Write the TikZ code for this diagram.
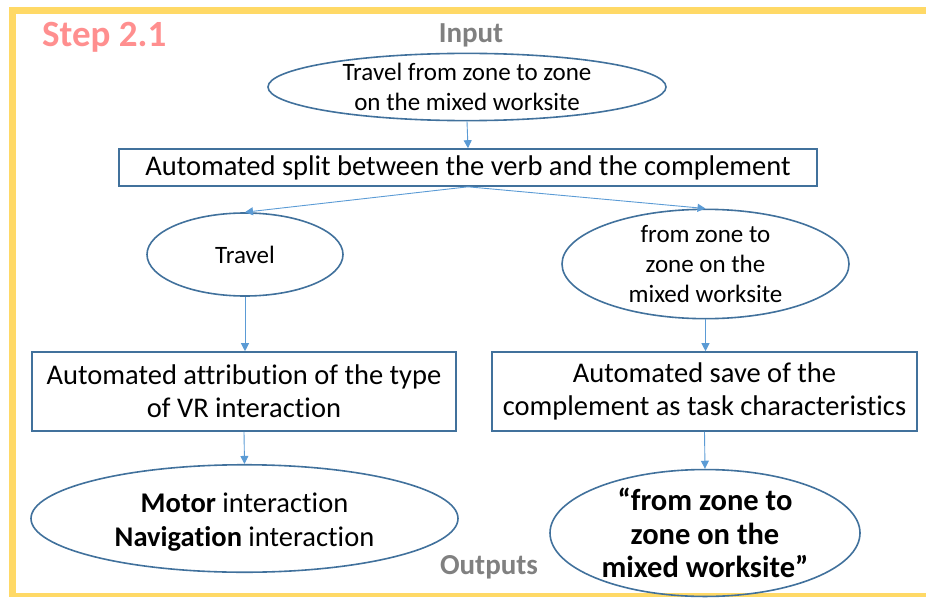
\documentclass[tikz,border=0pt]{standalone}
\usepackage{fontspec}
\setmainfont{Carlito}[Ligatures=NoCommon]
\usetikzlibrary{shapes.geometric,arrows.meta}
\definecolor{bord}{HTML}{41719C}
\definecolor{arr}{HTML}{5B9BD5}
\definecolor{yel}{HTML}{FFD966}
\definecolor{stepc}{HTML}{FF8F8F}
\definecolor{grayt}{HTML}{808080}
\tikzset{
  ell/.style={ellipse, draw=bord, line width=1.6pt, inner sep=0pt, align=center},
  box/.style={rectangle, draw=bord, line width=1.6pt, inner sep=0pt, align=center},
  conn/.style={draw=arr, line width=0.9pt, -{Triangle[length=8pt,width=8pt]}},
  lbl/.style={inner sep=0pt, font=\bfseries\fontsize{29}{32}\selectfont, text=grayt}
}
\begin{document}
\begin{tikzpicture}[x=1pt,y=-1pt]
\useasboundingbox (0,0) rectangle (926,599);
% frame
\fill[yel] (9,7) rectangle (926,14);
\fill[yel] (9,7) rectangle (16,597);
\fill[yel] (9,593) rectangle (926,597);
% titles
\node[inner sep=0pt, font=\bfseries\fontsize{37}{40}\selectfont, text=stepc, anchor=west] (step) at (42,37.5) {Step 2.1};
\node[lbl] (inp) at (471,35) {Input};
\node[lbl] (outp) at (489,567) {Outputs};
% nodes
\node[ell, minimum width=398pt, minimum height=65pt, font=\fontsize{25}{30}\selectfont] (in) at (467,87) {Travel from zone to zone\\on the mixed worksite};
\node[box, minimum width=698pt, minimum height=37pt, font=\fontsize{28.5}{33}\selectfont] (split) at (468,167.5) {Automated split between the verb and the complement};
\node[ell, minimum width=196pt, minimum height=83pt, font=\fontsize{25}{30}\selectfont] (trav) at (245,254.5) {Travel};
\node[ell, minimum width=287pt, minimum height=102pt, font=\fontsize{25}{30}\selectfont] (comp) at (705.5,264) {from zone to\\zone on the\\mixed worksite};
\node[box, minimum width=424pt, minimum height=79pt, font=\fontsize{28.5}{33}\selectfont] (attr) at (244,391.5) {Automated attribution of the type\\of VR interaction};
\node[box, minimum width=425pt, minimum height=79pt, font=\fontsize{28.5}{33}\selectfont] (save) at (704.5,391.5) {Automated save of the\\complement as task characteristics};
\node[ell, minimum width=427pt, minimum height=83pt, font=\fontsize{28.5}{34}\selectfont] (motor) at (244.5,518.5) {\raisebox{0pt}[\dimexpr\height+8pt\relax][\depth]{\begin{tabular}{@{}c@{}}\textbf{Motor} interaction\\\textbf{Navigation} interaction\end{tabular}}};
\node[ell, minimum width=310pt, minimum height=110pt, font=\bfseries\fontsize{30.5}{33.5}\selectfont] (res) at (705,533) {“from zone to\\zone on the\\mixed worksite”};
% connectors
\draw[conn] (in.south) -- (split.north);
\draw[conn] (split.south) -- (trav.north);
\draw[conn] (split.south) -- (comp.north);
\draw[conn] (trav.south) -- (trav.south |- attr.north);
\draw[conn] (comp.south) -- (comp.south |- save.north);
\draw[conn] (attr.south) -- (motor.north);
\draw[conn] (save.south) -- (res.north);
\end{tikzpicture}
\end{document}
